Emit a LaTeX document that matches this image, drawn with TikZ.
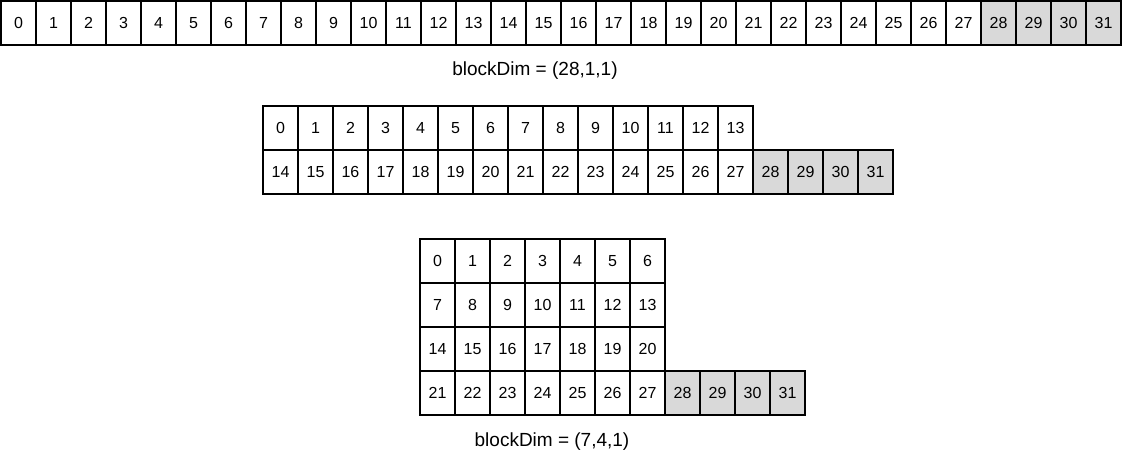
\documentclass[tikz,border=0pt]{standalone}
\usepackage{fontspec}
\setmainfont{Liberation Sans}
\usetikzlibrary{positioning}
\definecolor{unused}{HTML}{D9D9D9}

\tikzset{
	cell/.style={draw, line width=0.9pt, minimum width=26.25pt, minimum height=33pt, inner sep=0pt, font=\fontsize{12}{14}\selectfont},
	spare/.style={cell, fill=unused},
	dimlabel/.style={font=\fontsize{14.25}{17}\selectfont}
}

\begin{document}
\begin{tikzpicture}[x=0.75pt, y=-0.75pt]
	\useasboundingbox (0,0) rectangle (1122,455);
	% one block of 28 threads
	\foreach \i in {0,...,27} \node[cell] (t\i) at ({18.5+35*\i},23) {\i};
	\foreach \i in {28,...,31} \node[spare] (t\i) at ({18.5+35*\i},23) {\i};
	\node[dimlabel] (l1) at (535,71) {blockDim = (28,1,1)};
	% the same threads in two warps
	\foreach \i in {0,...,13} \node[cell] (m\i) at ({280.5+35*\i},128) {\i};
	\foreach \i in {14,...,27} \node[cell] (m\i) at ({280.5+35*(\i-14)},172) {\i};
	\foreach \i in {28,...,31} \node[spare] (m\i) at ({280.5+35*(\i-14)},172) {\i};
	% block of 7x4 threads
	\foreach \i in {0,...,27} \node[cell] (b\i) at ({437.5+35*mod(\i,7)},{261+44*int(\i/7)}) {\i};
	\foreach \i in {28,...,31} \node[spare] (b\i) at ({437.5+35*(\i-21)},393) {\i};
	\node[dimlabel] (l2) at (552,442) {blockDim = (7,4,1)};
\end{tikzpicture}
\end{document}
